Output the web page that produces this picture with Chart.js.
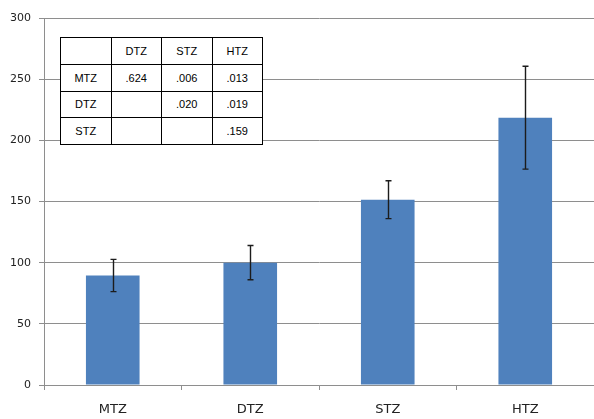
<!DOCTYPE html>
<html>
<head>
<meta charset="utf-8">
<script src="https://cdn.jsdelivr.net/npm/chart.js@4/dist/chart.umd.min.js"></script>
<style>
  html, body { margin: 0; padding: 0; background: #fff; }
  #wrap { position: relative; width: 594px; height: 419px; overflow: hidden; }
  #chart { position: absolute; left: 0; top: 0; }
  #ptable {
    position: absolute; left: 60px; top: 37px; width: 203px; height: 108px;
    border-collapse: collapse; table-layout: fixed; background: #fff;
    font-family: "Liberation Sans", Arial, sans-serif; font-size: 11px; color: #000;
  }
  #ptable td {
    border: 1px solid #000; padding: 0;
    text-align: center; vertical-align: middle;
  }
</style>
</head>
<body>
<div id="wrap">
  <canvas id="chart" width="594" height="419"></canvas>
  <table id="ptable"></table>
</div>
<script>
// Group means and their error margins
const groups = ["MTZ", "DTZ", "STZ", "HTZ"];
const means = [89.5, 100, 151.5, 218.5];
const errors = [13.2, 14, 15.5, 42];
const yTicks = [0, 50, 100, 150, 200, 250, 300];

// Pairwise comparison table (p-values)
const tableCols = ["", "DTZ", "STZ", "HTZ"];
const tableRows = ["MTZ", "DTZ", "STZ"];
const pValues = [
  [".624", ".006", ".013"],
  ["", ".020", ".019"],
  ["", "", ".159"]
];

// Build the p-value table
const tbl = document.getElementById("ptable");
const head = document.createElement("tr");
tableCols.forEach(c => { const td = document.createElement("td"); td.textContent = c; head.appendChild(td); });
tbl.appendChild(head);
tableRows.forEach((r, i) => {
  const tr = document.createElement("tr");
  const th = document.createElement("td"); th.textContent = r; tr.appendChild(th);
  pValues[i].forEach(v => { const td = document.createElement("td"); td.textContent = v; tr.appendChild(td); });
  tbl.appendChild(tr);
});

// Error bars drawn on top of each bar
const errorBars = {
  id: "errorBars",
  afterDatasetsDraw(chart) {
    const ctx = chart.ctx;
    const y = chart.scales.y;
    const meta = chart.getDatasetMeta(0);
    ctx.save();
    ctx.strokeStyle = "#1c1c1c";
    ctx.lineWidth = 1.4;
    meta.data.forEach((bar, i) => {
      const x = Math.round(bar.x) + 0.5;
      const top = y.getPixelForValue(means[i] + errors[i]);
      const bot = y.getPixelForValue(means[i] - errors[i]);
      ctx.beginPath();
      ctx.moveTo(x, top); ctx.lineTo(x, bot);
      ctx.moveTo(x - 3, top); ctx.lineTo(x + 3, top);
      ctx.moveTo(x - 3, bot); ctx.lineTo(x + 3, bot);
      ctx.stroke();
    });
    ctx.restore();
  }
};

const gridColor = "#8e8e8e";

new Chart(document.getElementById("chart"), {
  type: "bar",
  data: {
    labels: groups,
    datasets: [{
      data: means,
      backgroundColor: "#4f81bd",
      borderWidth: 0,
      barPercentage: 0.39,
      categoryPercentage: 1
    }]
  },
  options: {
    responsive: false,
    animation: false,
    layout: { padding: { top: 18, right: -3, bottom: 0, left: 0 } },
    plugins: { legend: { display: false }, tooltip: { enabled: false } },
    scales: {
      x: {
        afterFit(s) { s.height = 34; },
        grid: { drawOnChartArea: false, drawTicks: true, tickLength: 5, color: gridColor },
        border: { display: true, color: gridColor },
        ticks: { padding: 12, color: "#222", font: { family: "DejaVu Sans", size: 13 } }
      },
      y: {
        min: 0, max: 300,
        afterFit(s) { s.width = 44; },
        afterBuildTicks(s) { s.ticks = yTicks.map(v => ({ value: v })); },
        grid: { color: gridColor, tickLength: 5 },
        border: { display: true, color: gridColor },
        ticks: { padding: 8, color: "#222", font: { family: "DejaVu Sans", size: 11 } }
      }
    }
  },
  plugins: [errorBars]
});
</script>
</body>
</html>
